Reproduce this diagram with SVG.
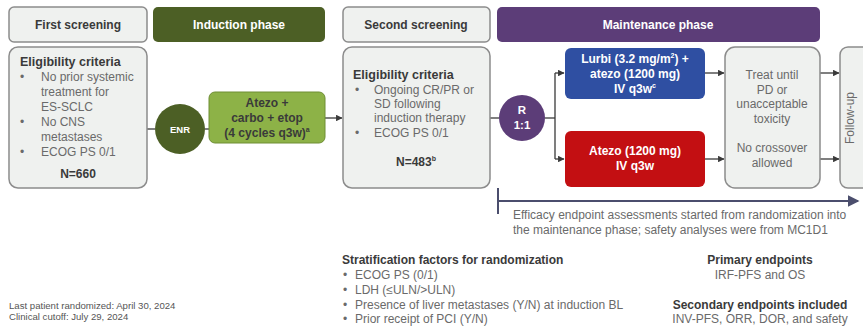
<svg xmlns="http://www.w3.org/2000/svg" width="863" height="329" viewBox="0 0 863 329">
  <style>
    text { font-family: "Liberation Sans", Arial, sans-serif; }
    .hdr { font-size: 12px; font-weight: bold; text-anchor: middle; }
    .dark { fill: #3a3a3a; }
    .body { font-size: 12px; fill: #6a6a6a; }
    .bold { font-weight: bold; fill: #3a3a3a; }
    .mid { text-anchor: middle; }
    .white { fill: #ffffff; font-weight: bold; }
    .panel { fill: #eff1ef; stroke: #8c8c8c; stroke-width: 1.5; }
    .conn { stroke: #3a3a3a; stroke-width: 1.3; fill: none; }
    .foot { font-size: 9.6px; fill: #555; }
  </style>
  <defs>
    <marker id="arr" viewBox="0 0 6 6" refX="5.5" refY="3" markerWidth="5" markerHeight="5" orient="auto">
      <path d="M0,0 L6,3 L0,6 z" fill="#3a3a3a"/>
    </marker>
    <marker id="arrTime" viewBox="0 0 8 8" refX="7" refY="4" markerWidth="6" markerHeight="6" orient="auto">
      <path d="M0,0 L8,4 L0,8 z" fill="#4b4e6d"/>
    </marker>
  </defs>

  <rect width="863" height="329" fill="#ffffff"/>

  <!-- Phase headers -->
  <g id="hdr-first">
    <rect class="panel" x="9" y="7" width="138" height="35" rx="5"/>
    <text class="hdr dark" x="78" y="29">First screening</text>
  </g>
  <g id="hdr-induction">
    <rect x="153" y="7" width="172" height="35" rx="5" fill="#4c5f25"/>
    <text class="hdr" x="239" y="29" fill="#ffffff">Induction phase</text>
  </g>
  <g id="hdr-second">
    <rect class="panel" x="343" y="7" width="147" height="35" rx="5"/>
    <text class="hdr dark" x="416" y="29">Second screening</text>
  </g>
  <g id="hdr-maintenance">
    <rect x="497" y="7" width="323" height="35" rx="5" fill="#5c3d78"/>
    <text class="hdr" x="658" y="29" fill="#ffffff">Maintenance phase</text>
  </g>

  <!-- Connectors -->
  <g id="connectors">
    <line class="conn" x1="147" y1="129" x2="155" y2="129"/>
    <line class="conn" x1="205" y1="129" x2="209" y2="129"/>
    <line class="conn" x1="325" y1="118" x2="342" y2="118" marker-end="url(#arr)"/>
    <line class="conn" x1="490" y1="118" x2="499" y2="118"/>
    <line class="conn" x1="545" y1="118" x2="555" y2="118"/>
    <path class="conn" d="M555,73 L555,159"/>
    <line class="conn" x1="555" y1="73" x2="564" y2="73" marker-end="url(#arr)"/>
    <line class="conn" x1="555" y1="159" x2="564" y2="159" marker-end="url(#arr)"/>
    <line class="conn" x1="705" y1="73" x2="724" y2="73" marker-end="url(#arr)"/>
    <line class="conn" x1="705" y1="159" x2="724" y2="159" marker-end="url(#arr)"/>
    <line class="conn" x1="820" y1="73" x2="839" y2="73" marker-end="url(#arr)"/>
    <line class="conn" x1="820" y1="159" x2="839" y2="159" marker-end="url(#arr)"/>
    <!-- efficacy timeline -->
    <line x1="498" y1="188" x2="498" y2="214" stroke="#4b4e6d" stroke-width="2"/>
    <line x1="498" y1="201" x2="858" y2="201" stroke="#4b4e6d" stroke-width="2" marker-end="url(#arrTime)"/>
  </g>

  <!-- First screening criteria -->
  <g id="first-criteria">
    <rect class="panel" x="9" y="47" width="138" height="141" rx="9"/>
    <text class="bold" x="20" y="66" font-size="12.5">Eligibility criteria</text>
    <g class="body">
      <text x="20" y="81">•</text><text x="41" y="81">No prior systemic</text>
      <text x="41" y="96">treatment for</text>
      <text x="41" y="111">ES-SCLC</text>
      <text x="20" y="126">•</text><text x="41" y="126">No CNS</text>
      <text x="41" y="141">metastases</text>
      <text x="20" y="156">•</text><text x="41" y="156">ECOG PS 0/1</text>
    </g>
    <text class="bold mid" x="78" y="178" font-size="12">N=660</text>
  </g>

  <!-- Enrollment -->
  <g id="enr">
    <circle cx="180" cy="129" r="25" fill="#4c5f25"/>
    <text class="white mid" x="180" y="133" font-size="9.5">ENR</text>
  </g>

  <!-- Induction regimen -->
  <g id="induction-regimen">
    <rect x="209" y="92" width="116" height="51" rx="6" fill="#8db247" stroke="#6f8e35" stroke-width="1"/>
    <g class="bold mid" font-size="12">
      <text x="267" y="107">Atezo +</text>
      <text x="267" y="122">carbo + etop</text>
      <text x="267" y="137">(4 cycles q3w)<tspan font-size="7" dy="-5">a</tspan></text>
    </g>
  </g>

  <!-- Second screening criteria -->
  <g id="second-criteria">
    <rect class="panel" x="343" y="47" width="147" height="141" rx="9"/>
    <text class="bold" x="353" y="79" font-size="12.5">Eligibility criteria</text>
    <g class="body">
      <text x="355" y="94">•</text><text x="374" y="94">Ongoing CR/PR or</text>
      <text x="374" y="108">SD following</text>
      <text x="374" y="122">induction therapy</text>
      <text x="355" y="137">•</text><text x="374" y="137">ECOG PS 0/1</text>
    </g>
    <text class="bold mid" x="416" y="166" font-size="12">N=483<tspan font-size="7" dy="-5">b</tspan></text>
  </g>

  <!-- Randomisation -->
  <g id="randomization">
    <circle cx="522" cy="118" r="23" fill="#5c3d78"/>
    <text class="white mid" x="522" y="114" font-size="11.5">R</text>
    <text class="white mid" x="522" y="129" font-size="11.5">1:1</text>
  </g>

  <!-- Maintenance arms -->
  <g id="arm-lurbi">
    <rect x="565" y="48" width="140" height="51" rx="6" fill="#2f4fa2"/>
    <g class="white mid" font-size="12">
      <text x="635" y="63">Lurbi (3.2 mg/m<tspan font-size="7" dy="-5">2</tspan><tspan dy="5">) +</tspan></text>
      <text x="635" y="78">atezo (1200 mg)</text>
      <text x="635" y="93">IV q3w<tspan font-size="7" dy="-5">c</tspan></text>
    </g>
  </g>
  <g id="arm-atezo">
    <rect x="565" y="131" width="140" height="56" rx="6" fill="#c30f12"/>
    <g class="white mid" font-size="12">
      <text x="635" y="155">Atezo (1200 mg)</text>
      <text x="635" y="170">IV q3w</text>
    </g>
  </g>

  <!-- Treatment duration -->
  <g id="treat-until">
    <rect class="panel" x="725" y="47" width="95" height="141" rx="10"/>
    <g class="body mid">
      <text x="772" y="79">Treat until</text>
      <text x="772" y="94">PD or</text>
      <text x="772" y="108">unacceptable</text>
      <text x="772" y="123">toxicity</text>
      <text x="772" y="152">No crossover</text>
      <text x="772" y="167">allowed</text>
    </g>
  </g>

  <!-- Follow-up -->
  <g id="follow-up">
    <rect class="panel" x="840" y="47" width="30" height="141" rx="8"/>
    <text class="body mid" transform="translate(854,118) rotate(-90)">Follow-up</text>
  </g>

  <!-- Efficacy note -->
  <g class="body">
    <text x="513" y="219">Efficacy endpoint assessments started from randomization into</text>
    <text x="513" y="234">the maintenance phase; safety analyses were from MC1D1</text>
  </g>

  <!-- Stratification factors -->
  <g id="stratification">
    <text class="bold" x="342" y="264" font-size="12">Stratification factors for randomization</text>
    <g class="body">
      <text x="343" y="279">•</text><text x="355" y="279">ECOG PS (0/1)</text>
      <text x="343" y="294">•</text><text x="355" y="294">LDH (≤ULN/&gt;ULN)</text>
      <text x="343" y="309">•</text><text x="355" y="309">Presence of liver metastases (Y/N) at induction BL</text>
      <text x="343" y="323">•</text><text x="355" y="323">Prior receipt of PCI (Y/N)</text>
    </g>
  </g>

  <!-- Endpoints -->
  <g id="endpoints">
    <text class="bold mid" x="760" y="264" font-size="12">Primary endpoints</text>
    <text class="body mid" x="760" y="279">IRF-PFS and OS</text>
    <text class="bold mid" x="760" y="309" font-size="12">Secondary endpoints included</text>
    <text class="body mid" x="760" y="323">INV-PFS, ORR, DOR, and safety</text>
  </g>

  <!-- Footnotes -->
  <g class="foot">
    <text x="9" y="309">Last patient randomized: April 30, 2024</text>
    <text x="9" y="320">Clinical cutoff: July 29, 2024</text>
  </g>
</svg>
